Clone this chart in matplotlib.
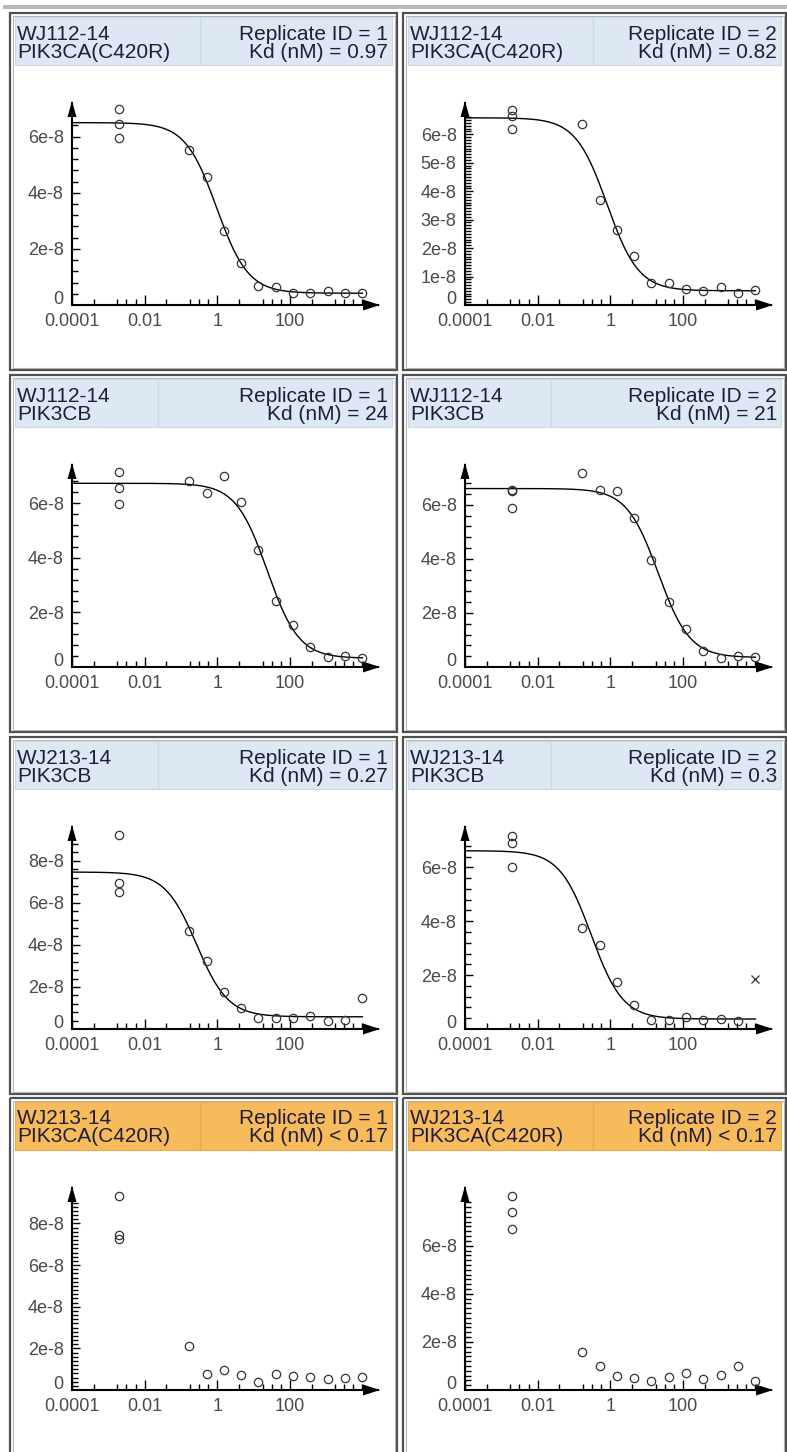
import matplotlib
matplotlib.use('Agg')
import matplotlib.pyplot as plt
import numpy as np
from matplotlib.patches import Rectangle, Polygon
from matplotlib.ticker import FixedLocator, FixedFormatter, NullFormatter

plt.rcParams['font.family'] = ['Liberation Sans', 'DejaVu Sans']

# ---- data (signal values in units of 1e-8) ----
conc_nM = [0.169, 0.508, 1.52, 4.57, 13.7, 41.2, 123, 370, 1111, 3333, 10000]
ctrl_conc = 0.002

compounds = ['WJ112-14', 'WJ112-14', 'WJ112-14', 'WJ112-14',
             'WJ213-14', 'WJ213-14', 'WJ213-14', 'WJ213-14']
targets = ['PIK3CA(C420R)', 'PIK3CA(C420R)', 'PIK3CB', 'PIK3CB',
           'PIK3CB', 'PIK3CB', 'PIK3CA(C420R)', 'PIK3CA(C420R)']
replicates = [1, 2, 1, 2, 1, 2, 1, 2]
kd_text = ['= 0.97', '= 0.82', '= 24', '= 21', '= 0.27', '= 0.3', '< 0.17', '< 0.17']
flagged = [False, False, False, False, False, False, True, True]

ctrl_signal = [
    [6.97, 6.45, 5.94],
    [6.85, 6.64, 6.20],
    [7.16, 6.55, 5.97],
    [6.56, 6.52, 5.88],
    [9.22, 6.93, 6.50],
    [7.17, 6.90, 6.03],
    [9.31, 7.43, 7.27],
    [8.08, 7.40, 6.69],
]
signal = [
    [5.52, 4.57, 2.65, 1.51, 0.68, 0.65, 0.42, 0.42, 0.50, 0.42, 0.44],
    [6.35, 3.69, 2.65, 1.71, 0.76, 0.76, 0.55, 0.49, 0.62, 0.41, 0.52],
    [6.83, 6.36, 7.00, 6.03, 4.28, 2.41, 1.55, 0.73, 0.37, 0.39, 0.33],
    [7.16, 6.55, 6.51, 5.51, 3.95, 2.41, 1.41, 0.61, 0.34, 0.40, 0.37],
    [4.68, 3.25, 1.74, 1.00, 0.51, 0.52, 0.51, 0.60, 0.40, 0.44, 1.46],
    [3.76, 3.13, 1.75, 0.89, 0.33, 0.33, 0.43, 0.33, 0.37, 0.30, np.nan],
    [2.13, 0.77, 0.96, 0.72, 0.37, 0.77, 0.67, 0.61, 0.51, 0.58, 0.61],
    [1.58, 1.01, 0.60, 0.51, 0.39, 0.56, 0.72, 0.44, 0.63, 1.00, 0.39],
]
# points excluded from the fit (drawn as x)
excluded_signal = [
    [np.nan] * 11,
    [np.nan] * 11,
    [np.nan] * 11,
    [np.nan] * 11,
    [np.nan] * 11,
    [np.nan] * 10 + [1.87],
    [np.nan] * 11,
    [np.nan] * 11,
]
fit_top = [6.50, 6.58, 6.73, 6.60, 7.46, 6.62, None, None]
fit_bottom = [0.42, 0.50, 0.32, 0.35, 0.58, 0.37, None, None]
fit_kd = [0.97, 0.82, 24, 21, 0.27, 0.30, None, None]

# axis settings per panel
y_max = [7.2, 7.1, 7.4, 7.47, 9.6, 7.5, 9.7, 8.4]
y_labeled = [[2, 4, 6], [1, 2, 3, 4, 5, 6], [2, 4, 6], [2, 4, 6],
             [2, 4, 6, 8], [2, 4, 6], [2, 4, 6, 8], [2, 4, 6]]
y_minor_step = [0.4, 0.1, 0.4, 0.4, 0.4, 0.4, 0.2, 0.2]
x_labels = ['0.0001', '0.01', '1', '100']

# ---- layout in pixels ----
W, H = 787, 1452
panel_left = [10, 403]
panel_width = [387, 383]
panel_top = [13, 375, 737, 1098]
panel_height = 357
header_div = {'PIK3CA(C420R)': 190, 'PIK3CB': 148}
blue = '#dde8f4'
orange = '#f8bb5c'
text_color = '#1e1e38'
tick_color = '#4a4a4a'


def px_box(x0, y0, x1, y1):
    return [x0 / W, 1 - y1 / H, (x1 - x0) / W, (y1 - y0) / H]


fig = plt.figure(figsize=(W / 100, H / 100), dpi=100)
bg = fig.add_axes([0, 0, 1, 1])
bg.set_xlim(0, W)
bg.set_ylim(H, 0)
bg.axis('off')

bg.add_patch(Rectangle((3, 5), W - 3, 4, color='#b8b8b8', lw=0))

for i in range(8):
    row, col = i // 2, i % 2
    L = panel_left[col]
    T = panel_top[row]
    pw = panel_width[col]

    # panel frame (double line)
    bg.add_patch(Rectangle((L, T), pw, panel_height, fill=False,
                           ec='#505050', lw=1.6))
    bg.add_patch(Rectangle((L + 2.5, T + 2.5), pw - 5, panel_height - 5,
                           fill=False, ec='#b4b4b4', lw=0.8))

    # header
    hc = orange if flagged[i] else blue
    ec = '#e6ab50' if flagged[i] else '#cbd9e8'
    bg.add_patch(Rectangle((L + 5, T + 4), pw - 10, 48, fc=hc, ec=ec, lw=0.8))
    dx = L + header_div[targets[i]]
    bg.plot([dx, dx], [T + 5, T + 51], color=ec, lw=1.0)
    bg.text(L + 7, T + 21, compounds[i], fontsize=15, color=text_color,
            ha='left', va='center')
    bg.text(L + 7, T + 39, targets[i], fontsize=15, color=text_color,
            ha='left', va='center')
    bg.text(L + pw - 9, T + 21, 'Replicate ID = %d' % replicates[i], fontsize=15,
            color=text_color, ha='right', va='center')
    bg.text(L + pw - 9, T + 39, 'Kd (nM) ' + kd_text[i], fontsize=15,
            color=text_color, ha='right', va='center')

    # plot area
    ax0, ay0, ax1, ay1 = L + 62, T + 90, L + 368, T + 292
    ax = fig.add_axes(px_box(ax0, ay0, ax1, ay1))
    ax.patch.set_alpha(0)
    ax.set_xscale('log')
    ax.set_xlim(1e-4, 10 ** 4.43)
    ax.set_ylim(0, y_max[i] * 1e-8)
    for s in ['top', 'right']:
        ax.spines[s].set_visible(False)
    for s in ['left', 'bottom']:
        ax.spines[s].set_linewidth(1.5)
        ax.spines[s].set_color('black')

    # arrow heads
    bg.add_patch(Polygon([[ax1 + 2, ay1], [ax1 - 15, ay1 - 5.5], [ax1 - 15, ay1 + 5.5]],
                         closed=True, color='black', lw=0))
    bg.add_patch(Polygon([[ax0, ay0 - 2], [ax0 - 4.5, ay0 + 14], [ax0 + 4.5, ay0 + 14]],
                         closed=True, color='black', lw=0))

    # x ticks
    ax.xaxis.set_major_locator(FixedLocator([1e-4, 1e-2, 1, 1e2]))
    ax.xaxis.set_major_formatter(FixedFormatter(x_labels))
    minor = []
    for base in [-4, -2, 0, 2]:
        minor += [10 ** (base + o) for o in (0.6, 1.25, 1.5, 1.75)]
    minor.append(1e4)
    ax.xaxis.set_minor_locator(FixedLocator(minor))
    ax.xaxis.set_minor_formatter(NullFormatter())
    ax.tick_params(axis='x', which='major', direction='in', length=7, width=1.0,
                   pad=6, labelsize=13, labelcolor=tick_color)
    ax.tick_params(axis='x', which='minor', direction='in', length=4, width=1.0)

    # y ticks ("0" label is placed separately, just above the x label)
    labs = y_labeled[i]
    ax.yaxis.set_major_locator(FixedLocator([v * 1e-8 for v in labs]))
    ax.yaxis.set_major_formatter(FixedFormatter(['%de-8' % v for v in labs]))
    step = y_minor_step[i]
    nmin = int(0.93 * y_max[i] / step)
    ax.yaxis.set_minor_locator(FixedLocator([k * step * 1e-8 for k in range(1, nmin + 1)]))
    ax.yaxis.set_minor_formatter(NullFormatter())
    ax.tick_params(axis='y', which='major', direction='in', length=6, width=1.0,
                   pad=6, labelsize=13, labelcolor=tick_color)
    ax.tick_params(axis='y', which='minor', direction='in', length=4, width=1.0)
    ax.annotate('0', xy=(0, 0), xycoords='axes fraction', xytext=(-6, 4),
                textcoords='offset points', ha='right', va='center',
                fontsize=13, color=tick_color)

    # fitted curve
    if fit_kd[i] is not None:
        xs = np.logspace(-4, 4, 400)
        ys = fit_bottom[i] + (fit_top[i] - fit_bottom[i]) / (1 + xs / fit_kd[i])
        ax.plot(xs, ys * 1e-8, color='black', lw=1.0, zorder=2)

    # data points
    ax.plot([ctrl_conc] * len(ctrl_signal[i]), np.array(ctrl_signal[i]) * 1e-8, 'o',
            ms=6, mfc='none', mec='#333333', mew=0.9, zorder=3, clip_on=False)
    ax.plot(conc_nM, np.array(signal[i]) * 1e-8, 'o', ms=6, mfc='none',
            mec='#333333', mew=0.9, zorder=3, clip_on=False)
    ax.plot(conc_nM, np.array(excluded_signal[i]) * 1e-8, 'x', ms=6,
            color='#333333', mew=0.9, zorder=3, clip_on=False)

fig.savefig('out.png', dpi=100)
